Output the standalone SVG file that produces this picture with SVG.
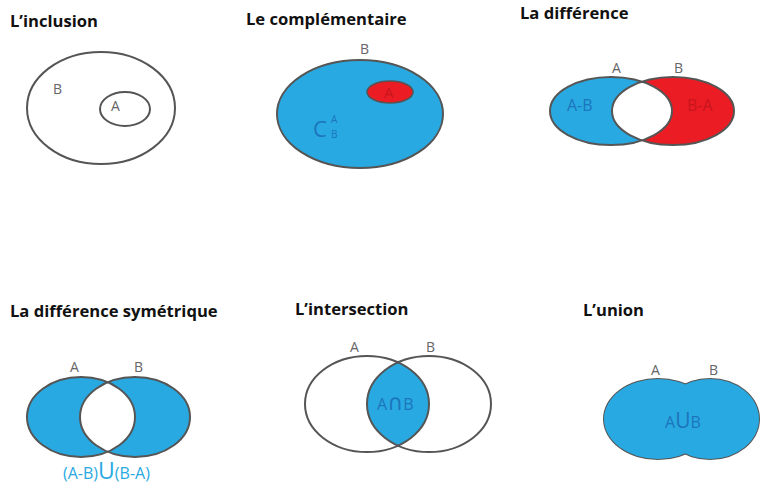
<svg xmlns="http://www.w3.org/2000/svg" width="760" height="485" viewBox="0 0 760 485">
<style>
.title{font-family:"Open Sans","Liberation Sans",sans-serif;font-weight:bold;font-size:16.6px;fill:#111}
.lbl{font-family:"Open Sans","Liberation Sans",sans-serif;font-size:14px;fill:#666}
.in{font-family:"Open Sans","Liberation Sans",sans-serif;font-size:16px;fill:#1b75bc}
.line{fill:none;stroke:#555;stroke-width:2}
.blue{fill:#29a9e1}
.red{fill:#ec1c24}
</style>
<defs>
<clipPath id="cDL"><ellipse cx="611" cy="111" rx="61" ry="34"/></clipPath>
<clipPath id="cSL"><ellipse cx="81" cy="417" rx="54" ry="40"/></clipPath>
<clipPath id="cIL"><ellipse cx="367" cy="404" rx="62" ry="48"/></clipPath>
</defs>
<rect width="760" height="485" fill="#fff"/>

<g id="inclusion">
<text class="title" x="10" y="27">L’inclusion</text>
<ellipse class="line" cx="101" cy="108" rx="74" ry="56"/>
<ellipse class="line" cx="125" cy="109" rx="25" ry="17"/>
<text class="lbl" x="53" y="94">B</text>
<text class="lbl" x="111" y="111">A</text>
</g>

<g id="complementaire">
<text class="title" x="246" y="25">Le complémentaire</text>
<ellipse class="blue" cx="360" cy="114" rx="83" ry="54" stroke="#555" stroke-width="2"/>
<ellipse class="red" cx="390" cy="92" rx="23" ry="11" stroke="#555" stroke-width="1.5"/>
<text x="384" y="98" font-family="Open Sans,Liberation Sans,sans-serif" font-size="15" fill="#c8151c">A</text>
<text class="lbl" x="360" y="54">B</text>
<text x="313" y="137" font-family="Open Sans,Liberation Sans,sans-serif" font-size="22" fill="#1b75bc">C</text>
<text x="331" y="123" font-family="Open Sans,Liberation Sans,sans-serif" font-size="10" fill="#1b75bc">A</text>
<text x="331" y="138" font-family="Open Sans,Liberation Sans,sans-serif" font-size="10" fill="#1b75bc">B</text>
</g>

<g id="difference">
<text class="title" x="520" y="19">La différence</text>
<ellipse class="blue" cx="611" cy="111" rx="61" ry="34"/>
<ellipse class="red" cx="673" cy="111" rx="61" ry="34"/>
<ellipse cx="673" cy="111" rx="61" ry="34" fill="#fff" clip-path="url(#cDL)"/>
<ellipse class="line" cx="611" cy="111" rx="61" ry="34"/>
<ellipse class="line" cx="673" cy="111" rx="61" ry="34"/>
<text class="lbl" x="612" y="73" font-size="15">A</text>
<text class="lbl" x="674" y="73" font-size="15">B</text>
<text class="in" x="567" y="111">A-B</text>
<text x="687" y="111" font-family="Open Sans,Liberation Sans,sans-serif" font-size="16" fill="#c8151c">B-A</text>
</g>

<g id="difference-symetrique">
<text class="title" x="10" y="317">La différence symétrique</text>
<ellipse class="blue" cx="81" cy="417" rx="54" ry="40"/>
<ellipse class="blue" cx="135" cy="417" rx="55" ry="40"/>
<ellipse cx="135" cy="417" rx="55" ry="40" fill="#fff" clip-path="url(#cSL)"/>
<ellipse class="line" cx="81" cy="417" rx="54" ry="40"/>
<ellipse class="line" cx="135" cy="417" rx="55" ry="40"/>
<text class="lbl" x="70" y="372" font-size="15">A</text>
<text class="lbl" x="134" y="372" font-size="15">B</text>
<text x="63" y="479" font-family="Open Sans,Liberation Sans,sans-serif" font-size="16" fill="#29a9e1">(A-B)<tspan font-size="23">U</tspan>(B-A)</text>
</g>

<g id="intersection">
<text class="title" x="295" y="315">L’intersection</text>
<ellipse cx="429" cy="404" rx="62" ry="48" class="blue" clip-path="url(#cIL)"/>
<ellipse class="line" cx="367" cy="404" rx="62" ry="48"/>
<ellipse class="line" cx="429" cy="404" rx="62" ry="48"/>
<text class="lbl" x="350" y="352" font-size="17">A</text>
<text class="lbl" x="426" y="352" font-size="17">B</text>
<text class="in" x="377" y="410" font-size="17">A<tspan font-family="DejaVu Sans,sans-serif" font-size="22">∩</tspan>B</text>
</g>

<g id="union">
<text class="title" x="583" y="316">L’union</text>
<ellipse cx="658" cy="419" rx="55" ry="41" fill="#555"/>
<ellipse cx="710" cy="419" rx="50" ry="41" fill="#555"/>
<ellipse class="blue" cx="658" cy="419" rx="54" ry="40"/>
<ellipse class="blue" cx="710" cy="419" rx="49" ry="40"/>
<text class="lbl" x="651" y="375" font-size="16">A</text>
<text class="lbl" x="709" y="375" font-size="16">B</text>
<text class="in" x="665" y="428" font-size="16">A<tspan font-size="21">U</tspan>B</text>
</g>
</svg>
